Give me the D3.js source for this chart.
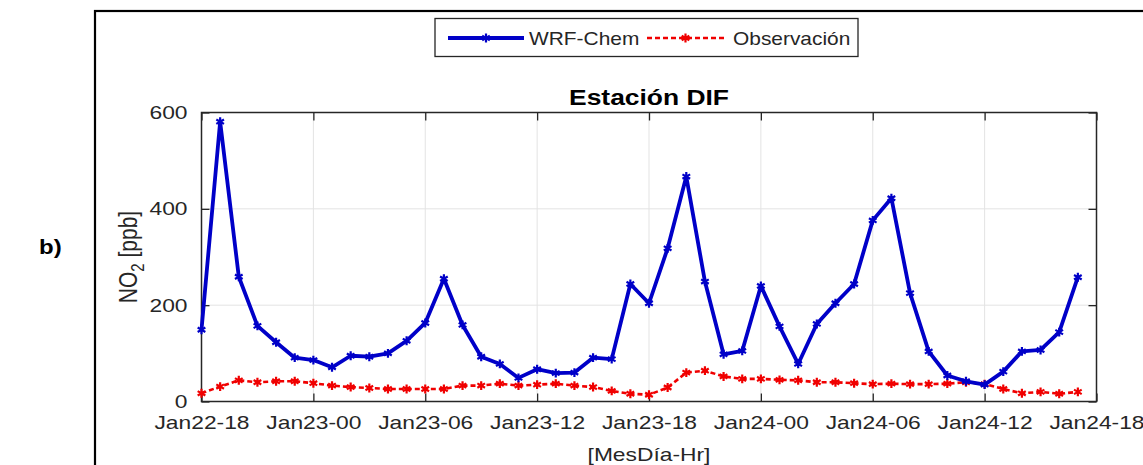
<!DOCTYPE html>
<html lang="es">
<head>
  <meta charset="UTF-8">
  <script src="https://cdn.jsdelivr.net/npm/d3@7"></script>
  <title>Estación DIF - NO2</title>
  <style>
    body { margin: 0; background: #fff; }
    svg text { font-family: "Liberation Sans", Arial, sans-serif; }
    .grid line { stroke: #e3e3e3; stroke-width: 1px; }
  </style>
</head>
<body>
  <div id="chart"></div>
  <script>
    /*---------------- data ----------------*/
    // one value per hour, from Jan22-18 to Jan24-17
    const tickLabels = ["Jan22-18", "Jan23-00", "Jan23-06", "Jan23-12", "Jan23-18",
      "Jan24-00", "Jan24-06", "Jan24-12", "Jan24-18"];
    const wrfChem = [149, 581, 259, 157, 123, 91, 86, 71, 95, 93, 100, 126,
      163, 255, 159, 93, 78, 49, 67, 59, 60, 91, 88, 244,
      204, 318, 467, 249, 98, 105, 240, 156, 78, 161, 204, 244,
      376, 422, 225, 104, 54, 42, 35, 62, 104, 107, 144, 258];
    const observacion = [17, 31, 44, 40, 42, 42, 38, 33, 30, 28, 26, 26,
      26, 26, 33, 33, 37, 33, 35, 37, 33, 30, 22, 16,
      14, 29, 60, 64, 52, 47, 47, 45, 44, 40, 40, 38,
      36, 37, 36, 36, 37, 40, 36, 26, 17, 20, 16, 20];
    const yTicks = [0, 200, 400, 600];

    /*---------------- layout ----------------*/
    const W = 1143, H = 465;
    const plot = { left: 201.5, right: 1096.5, top: 112.5, bottom: 401.5 };
    const STRETCH = 1.2; // the picture is a little wider than tall

    const svg = d3.select("#chart").append("svg")
      .attr("width", W).attr("height", H);

    // widen a text by the picture's horizontal stretch
    const stretch = (sel, k = STRETCH) => sel.each(function () {
      const len = this.getComputedTextLength();
      d3.select(this).attr("textLength", len * k).attr("lengthAdjust", "spacingAndGlyphs");
    });

    // outer figure frame (runs off the right and bottom)
    svg.append("rect")
      .attr("x", 95).attr("y", 11).attr("width", 1100).attr("height", 500)
      .attr("fill", "none").attr("stroke", "#000").attr("stroke-width", 2.2);

    svg.append("text")
      .attr("x", 39).attr("y", 254)
      .attr("font-size", 20).attr("font-weight", "bold")
      .text("b)").call(stretch);

    /*---------------- scales ----------------*/
    const x = d3.scaleLinear().domain([0, 48]).range([plot.left, plot.right]);
    const y = d3.scaleLinear().domain([0, 600]).range([plot.bottom, plot.top]);
    const xTicks = tickLabels.map((d, i) => i * 6);

    // grid
    const grid = svg.append("g").attr("class", "grid");
    grid.selectAll(".gx").data(xTicks.slice(1, -1)).enter().append("line")
      .attr("x1", d => x(d)).attr("x2", d => x(d))
      .attr("y1", plot.top).attr("y2", plot.bottom);
    grid.selectAll(".gy").data(yTicks.slice(1, -1)).enter().append("line")
      .attr("x1", plot.left).attr("x2", plot.right)
      .attr("y1", d => y(d)).attr("y2", d => y(d));

    /*---------------- axes ----------------*/
    const axisColor = "#262626";
    const styleAxis = g => {
      g.select(".domain").remove();
      g.selectAll(".tick line").attr("stroke", axisColor).attr("stroke-width", 1.3);
      g.selectAll(".tick text").attr("fill", axisColor).attr("font-size", 19)
        .attr("font-family", "Liberation Sans, Arial, sans-serif");
    };

    svg.append("g")
      .attr("transform", `translate(0,${plot.bottom})`)
      .call(d3.axisBottom(x).tickValues(xTicks).tickFormat((d, i) => tickLabels[i])
        .tickSizeInner(-8).tickSizeOuter(0).tickPadding(14))
      .call(styleAxis)
      .call(g => g.selectAll(".tick text").attr("dy", "0.71em").call(stretch));

    svg.append("g")
      .attr("transform", `translate(0,${plot.top})`)
      .call(d3.axisTop(x).tickValues(xTicks).tickFormat("").tickSizeInner(-8).tickSizeOuter(0))
      .call(styleAxis);

    svg.append("g")
      .attr("transform", `translate(${plot.left},0)`)
      .call(d3.axisLeft(y).tickValues(yTicks).tickSizeInner(-8).tickSizeOuter(0).tickPadding(14))
      .call(styleAxis)
      .call(g => g.selectAll(".tick text").call(stretch));

    svg.append("g")
      .attr("transform", `translate(${plot.right},0)`)
      .call(d3.axisRight(y).tickValues(yTicks).tickFormat("").tickSizeInner(-8).tickSizeOuter(0))
      .call(styleAxis);

    svg.append("rect")
      .attr("x", plot.left).attr("y", plot.top)
      .attr("width", plot.right - plot.left).attr("height", plot.bottom - plot.top)
      .attr("fill", "none").attr("stroke", axisColor).attr("stroke-width", 1.5);

    /*---------------- series ----------------*/
    const line = d3.line().x((d, i) => x(i)).y(d => y(d));
    const star = d3.symbol().type(d3.symbolAsterisk).size(55);

    const series = [
      { values: observacion, color: "#f00000", width: 2.6, dash: "5,3" },
      { values: wrfChem, color: "#0000c8", width: 3.8, dash: null }
    ];

    series.forEach(s => {
      svg.append("path").datum(s.values)
        .attr("d", line).attr("fill", "none")
        .attr("stroke", s.color).attr("stroke-width", s.width)
        .attr("stroke-dasharray", s.dash).attr("stroke-linejoin", "round");
      svg.append("g").selectAll("path").data(s.values).enter().append("path")
        .attr("transform", (d, i) => `translate(${x(i)},${y(d)})`)
        .attr("d", star).attr("fill", "none")
        .attr("stroke", s.color).attr("stroke-width", 2.2);
    });

    /*---------------- titles ----------------*/
    svg.append("text")
      .attr("x", (plot.left + plot.right) / 2).attr("y", 105)
      .attr("text-anchor", "middle").attr("font-size", 22).attr("font-weight", "bold")
      .attr("fill", "#000").text("Estación DIF").call(stretch);

    svg.append("text")
      .attr("x", (plot.left + plot.right) / 2).attr("y", 461)
      .attr("text-anchor", "middle").attr("font-size", 19).attr("fill", axisColor)
      .text("[MesDía-Hr]").call(stretch);

    const yLabel = svg.append("text")
      .attr("transform", `translate(137,${(plot.top + plot.bottom) / 2}) scale(1.2,1) rotate(-90)`)
      .attr("text-anchor", "middle").attr("font-size", 21).attr("fill", axisColor);
    yLabel.append("tspan").text("NO");
    yLabel.append("tspan").attr("font-size", 15).attr("dy", 6).text("2");
    yLabel.append("tspan").attr("dy", -6).text(" [ppb]");

    /*---------------- legend ----------------*/
    const legend = svg.append("g");
    legend.append("rect")
      .attr("x", 435).attr("y", 18.5).attr("width", 423).attr("height", 38)
      .attr("fill", "#fff").attr("stroke", axisColor).attr("stroke-width", 1.3);

    const legendItems = [
      { name: "WRF-Chem", s: series[1], x0: 448, x1: 524, tx: 529 },
      { name: "Observación", s: series[0], x0: 647, x1: 724, tx: 733 }
    ];
    legendItems.forEach(it => {
      legend.append("line")
        .attr("x1", it.x0).attr("x2", it.x1).attr("y1", 38).attr("y2", 38)
        .attr("stroke", it.s.color).attr("stroke-width", it.s.width)
        .attr("stroke-dasharray", it.s.dash);
      legend.append("path")
        .attr("transform", `translate(${(it.x0 + it.x1) / 2},38)`)
        .attr("d", star).attr("fill", "none")
        .attr("stroke", it.s.color).attr("stroke-width", 2.2);
      legend.append("text")
        .attr("x", it.tx).attr("y", 45)
        .attr("font-size", 19).attr("fill", axisColor)
        .text(it.name).call(stretch, 1.1);
    });
  </script>
</body>
</html>
